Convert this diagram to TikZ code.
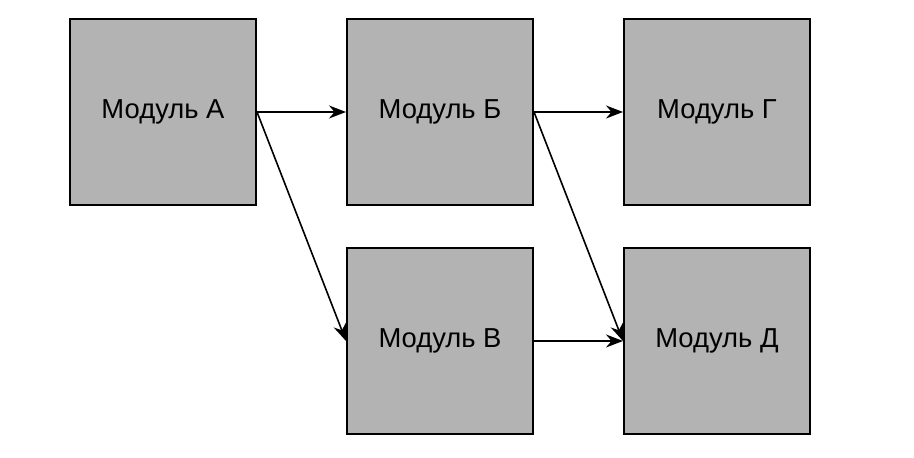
\documentclass[tikz,border=0pt]{standalone}
\usepackage{fontspec}
\setmainfont{Liberation Sans}
\usetikzlibrary{positioning,arrows.meta}
\definecolor{modgray}{HTML}{B3B3B3}

\begin{document}
\begin{tikzpicture}[
	line width = 1pt,
	every node/.style = {draw, fill = modgray, rectangle, minimum size = 93pt,
		inner sep = 0pt, font = \fontsize{13.7pt}{16pt}\selectfont},
	node distance = 20.5pt and 44.5pt,
	link/.style = {-{Stealth[length = 8.5pt, width = 6.5pt]}, line width = 0.8pt}
	]
	\useasboundingbox (0,0) rectangle (457pt,-229pt);
	\node (A) at (81.5pt,-56pt) {Модуль А};
	\node [right = of A] (B) {Модуль Б};
	\node [right = of B] (G) {Модуль Г};
	\node [below = of B] (V) {Модуль В};
	\node [below = of G] (D) {Модуль Д};
	% connections
	\draw[link] (A.east) -- (B.west);
	\draw[link] (A.east) -- (V.west);
	\draw[link] (B.east) -- (G.west);
	\draw[link] (B.east) -- (D.west);
	\draw[link] (V.east) -- (D.west);
\end{tikzpicture}
\end{document}
